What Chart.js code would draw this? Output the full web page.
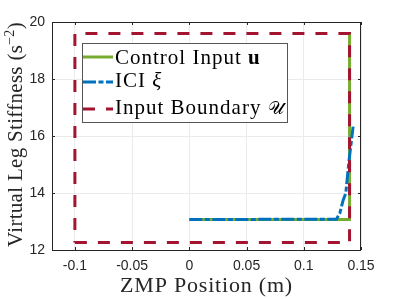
<!DOCTYPE html>
<html>
<head>
<meta charset="utf-8">
<script src="https://cdn.jsdelivr.net/npm/chart.js@4/dist/chart.umd.min.js"></script>
<style>
  html, body { margin: 0; padding: 0; background: #fff; }
</style>
</head>
<body>
<canvas id="chart" width="399" height="299"></canvas>
<script>
const xTicks = [-0.1, -0.05, 0, 0.05, 0.1, 0.15];
const xTickLabels = ['-0.1', '-0.05', '0', '0.05', '0.1', '0.15'];
const yTicks = [12, 14, 16, 18, 20];

// control input u
const inputX = [0, 0.14, 0.14];
const inputY = [13.07, 13.07, 19.6];
// ICI xi
const iciX = [0, 0.1285, 0.1315, 0.1344, 0.1367, 0.1396, 0.1431];
const iciY = [13.07, 13.08, 13.29, 13.75, 13.99, 15.16, 16.33];
// input boundary U
const boundX = [-0.1, 0.14, 0.14, -0.1, -0.1];
const boundY = [12.26, 12.26, 19.6, 19.6, 12.26];

const seriesNames = ['Control Input ', 'ICI ', 'Input Boundary '];
const seriesSymbols = ['u', 'ξ', '𝒰'];
const seriesColors = ['#77AC30', '#0072BD', '#A2142F'];
const seriesDash = [[], [13, 2.5, 5, 2.5], [12, 11]];

const AXIS = '#262626';
const SERIF = '"Liberation Serif", "DejaVu Serif", serif';

const toPoints = (xs, ys) => xs.map((x, i) => ({ x, y: ys[i] }));

const frame = {
  id: 'frame',
  afterDatasetsDraw(chart) {
    const { ctx, chartArea: a, scales } = chart;
    ctx.save();
    // box + inner ticks
    ctx.strokeStyle = AXIS;
    ctx.lineWidth = 1;
    ctx.strokeRect(a.left + 0.5, a.top + 0.5, a.right - a.left - 1, a.bottom - a.top);
    ctx.beginPath();
    xTicks.forEach((v) => {
      const px = Math.round(scales.x.getPixelForValue(v)) + 0.5;
      ctx.moveTo(px, a.bottom); ctx.lineTo(px, a.bottom - 3);
      ctx.moveTo(px, a.top); ctx.lineTo(px, a.top + 3);
    });
    yTicks.forEach((v) => {
      const py = Math.round(scales.y.getPixelForValue(v)) + 0.5;
      ctx.moveTo(a.left, py); ctx.lineTo(a.left + 3, py);
      ctx.moveTo(a.right, py); ctx.lineTo(a.right - 3, py);
    });
    ctx.stroke();

    // legend
    const lx = 82, ly = 43, lw = 205, lh = 79;
    ctx.fillStyle = '#fff';
    ctx.fillRect(lx, ly, lw, lh);
    ctx.strokeStyle = '#555';
    ctx.strokeRect(lx + 0.5, ly + 0.5, lw, lh);
    const lineY = [57, 82, 109];
    const textY = [64, 87, 114];
    const symFont = ['bold 21px ' + SERIF, 'italic 21px ' + SERIF, '18px ' + SERIF];
    seriesNames.forEach((name, i) => {
      ctx.strokeStyle = seriesColors[i];
      ctx.lineWidth = 3;
      ctx.setLineDash(seriesDash[i]);
      ctx.beginPath();
      ctx.moveTo(83, lineY[i]); ctx.lineTo(113, lineY[i]);
      ctx.stroke();
      ctx.setLineDash([]);
      ctx.fillStyle = '#000';
      ctx.textBaseline = 'alphabetic';
      ctx.textAlign = 'left';
      ctx.letterSpacing = '1px';
      ctx.font = '21px ' + SERIF;
      ctx.fillText(name, 115, textY[i]);
      const w = ctx.measureText(name).width;
      ctx.letterSpacing = '0px';
      ctx.font = symFont[i];
      ctx.fillText(seriesSymbols[i], 115 + w, textY[i]);
    });

    // axis titles
    ctx.fillStyle = AXIS;
    ctx.font = '22px ' + SERIF;
    ctx.letterSpacing = '0.8px';
    ctx.textAlign = 'center';
    ctx.fillText('ZMP Position (m)', (a.left + a.right) / 2, 292);

    ctx.letterSpacing = '0.3px';
    ctx.translate(22, 134.5);
    ctx.rotate(-Math.PI / 2);
    const main = 'Virtual Leg Stiffness (s';
    ctx.font = '21px ' + SERIF;
    const w1 = ctx.measureText(main).width;
    const w3 = ctx.measureText(')').width;
    ctx.font = '14px ' + SERIF;
    const w2 = ctx.measureText('\u22122').width;
    const start = -(w1 + w2 + w3) / 2;
    ctx.textAlign = 'left';
    ctx.font = '21px ' + SERIF;
    ctx.fillText(main, start, 0);
    ctx.font = '14px ' + SERIF;
    ctx.fillText('\u22122', start + w1, -8);
    ctx.font = '21px ' + SERIF;
    ctx.fillText(')', start + w1 + w2, 0);
    ctx.restore();
  },
};

new Chart(document.getElementById('chart'), {
  type: 'scatter',
  data: {
    datasets: [
      {
        label: 'Control Input u',
        data: toPoints(inputX, inputY),
        showLine: true,
        borderColor: seriesColors[0],
        borderWidth: 3,
        pointRadius: 0,
        order: 3,
      },
      {
        label: 'ICI ξ',
        data: toPoints(iciX, iciY),
        showLine: true,
        borderColor: seriesColors[1],
        borderWidth: 3,
        borderDash: seriesDash[1],
        pointRadius: 0,
        order: 2,
      },
      {
        label: 'Input Boundary U',
        data: toPoints(boundX, boundY),
        showLine: true,
        borderColor: seriesColors[2],
        borderWidth: 3,
        borderDash: seriesDash[2],
        pointRadius: 0,
        order: 1,
      },
    ],
  },
  options: {
    responsive: false,
    animation: false,
    devicePixelRatio: 1,
    layout: { padding: { top: 22, right: 38, left: 0, bottom: 0 } },
    plugins: { legend: { display: false }, tooltip: { enabled: false } },
    scales: {
      x: {
        type: 'linear',
        min: -0.12,
        max: 0.15,
        afterBuildTicks: (s) => { s.ticks = xTicks.map((value) => ({ value })); },
        afterFit: (s) => { s.height = 49; },
        grid: { color: '#ebebeb', drawTicks: false },
        border: { display: false },
        ticks: {
          padding: 8,
          color: AXIS,
          font: { family: '"Liberation Sans", Arial, sans-serif', size: 14 },
          callback: (v, i) => xTickLabels[i],
        },
      },
      y: {
        min: 12,
        max: 20,
        afterBuildTicks: (s) => { s.ticks = yTicks.map((value) => ({ value })); },
        afterFit: (s) => { s.width = 52; },
        grid: { color: '#ebebeb', drawTicks: false },
        border: { display: false },
        ticks: {
          padding: 7,
          color: AXIS,
          font: { family: '"Liberation Sans", Arial, sans-serif', size: 14 },
          callback: (v) => String(v),
        },
      },
    },
  },
  plugins: [frame],
});
</script>
</body>
</html>
